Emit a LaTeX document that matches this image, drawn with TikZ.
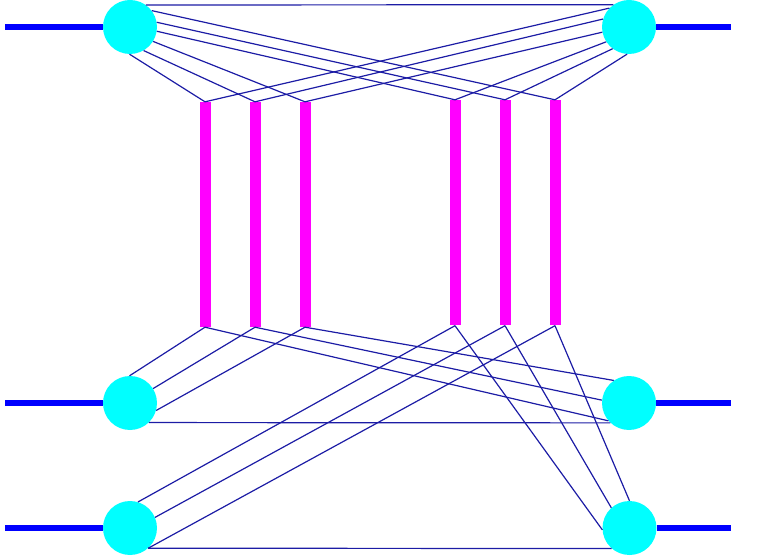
\documentclass[tikz,border=0pt]{standalone}
\definecolor{hubcyan}{RGB}{0,255,255}
\definecolor{barmag}{RGB}{255,0,255}
\definecolor{wireblue}{RGB}{28,28,165}
\definecolor{feedblue}{RGB}{0,0,255}
\begin{document}
\begin{tikzpicture}[x=1pt,y=-1pt,
  hub/.style={circle,fill=hubcyan,draw=none,inner sep=0pt,minimum size=54pt},
  bar/.style={rectangle,fill=barmag,draw=none,inner sep=0pt,minimum width=11pt},
  wire/.style={draw=wireblue,line width=1.2pt},
  feed/.style={draw=feedblue,line width=5.5pt}]
\useasboundingbox (0,0) rectangle (761,556);
% bars
\node[bar,minimum height=225pt] (b1) at (205,214.5) {};
\node[bar,minimum height=225pt] (b2) at (255,214.5) {};
\node[bar,minimum height=225pt] (b3) at (305,214.5) {};
\node[bar,minimum height=225.5pt] (b4) at (455,212.75) {};
\node[bar,minimum height=225.5pt] (b5) at (505,212.75) {};
\node[bar,minimum height=225.5pt] (b6) at (555,212.75) {};
% hubs
\node[hub] (TL) at (130,27) {};
\node[hub] (TR) at (629,27) {};
\node[hub] (ML) at (130,403) {};
\node[hub] (MR) at (629,403) {};
\node[hub] (BL) at (130,528) {};
\node[hub] (BR) at (629.5,528) {};
% feeders
\coordinate (fTL) at (5,27);
\coordinate (fTR) at (731,27);
\coordinate (fML) at (5,403);
\coordinate (fMR) at (731,403);
\coordinate (fBL) at (5,528);
\coordinate (fBR) at (731,528);
\draw[feed] (fTL) -- (TL.west);
\draw[feed] (TR.east) -- (fTR);
\draw[feed] (fML) -- (ML.west);
\draw[feed] (MR.east) -- (fMR);
\draw[feed] (fBL) -- (BL.west);
\draw[feed] (BR.east) -- (fBR);
% top wires
\draw[wire] (TL.54.6) -- (TR.125.4);
\draw[wire] (TL.-91) -- (b1.north);
\draw[wire] (TL.-60) -- (b2.north);
\draw[wire] (TL.-32) -- (b3.north);
\draw[wire] (TL.-9) -- (b4.north);
\draw[wire] (TL.10) -- (b5.north);
\draw[wire] (TL.37) -- (b6.north);
\draw[wire] (TR.-94) -- (b6.north);
\draw[wire] (TR.-127) -- (b5.north);
\draw[wire] (TR.-147) -- (b4.north);
\draw[wire] (TR.-169) -- (b3.north);
\draw[wire] (TR.163) -- (b2.north);
\draw[wire] (TR.136) -- (b1.north);
% middle wires
\draw[wire] (b1.south) -- (ML.91);
\draw[wire] (b2.south) -- (ML.32);
\draw[wire] (b3.south) -- (ML.-16);
\draw[wire] (ML.-46.5) -- (MR.-133.5);
\draw[wire] (b3.south) -- (MR.124);
\draw[wire] (b2.south) -- (MR.174);
\draw[wire] (b1.south) -- (MR.-139);
% bottom wires
\draw[wire] (b4.south) -- (BL.73);
\draw[wire] (b5.south) -- (BL.23);
\draw[wire] (b6.south) -- (BL.-48);
\draw[wire] (BL.-48.8) -- (BR.-131.2);
\draw[wire] (b6.south) -- (BR.90);
\draw[wire] (b5.south) -- (BR.132);
\draw[wire] (b4.south) -- (BR.-176);
\end{tikzpicture}
\end{document}
